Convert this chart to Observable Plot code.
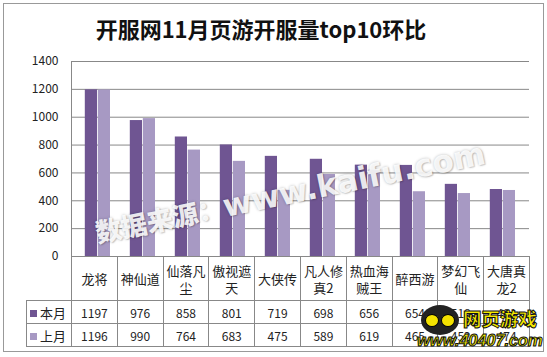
<!DOCTYPE html>
<html>
<head>
<meta charset="utf-8">
<script src="https://cdn.jsdelivr.net/npm/d3@7"></script>
<script src="https://cdn.jsdelivr.net/npm/@observablehq/plot@0.6"></script>
<style>
  html, body { margin: 0; padding: 0; background: #fff; }
  #root { position: relative; width: 547px; height: 357px; overflow: hidden; font-family: "Noto Sans CJK SC", "DejaVu Sans", sans-serif; }
  #border { position: absolute; left: 3px; top: 3px; width: 541px; height: 349px; border: 1px solid #999; box-sizing: border-box; }
  #title { position: absolute; left: 0; top: 13px; width: 522px; text-align: center; font-size: 22px; font-weight: bold; color: #111; line-height: 30px; }
  #chart { position: absolute; left: 0; top: 0; }
  #tbl { position: absolute; left: 26px; top: 256px; border-collapse: collapse; table-layout: fixed; width: 503px; color: #222; }
  #tbl td { border: 1px solid #888; padding: 0 1px; text-align: center; font-size: 12px; }
  #tbl tr.head td { height: 43px; font-size: 13px; line-height: 17px; vertical-align: middle; }
  #tbl tr.head td.blank { border-top: none; border-left: none; }
  #tbl tr.row td { height: 22px; }
  #tbl td.lab { text-align: left; font-size: 13px; padding-left: 3px; white-space: nowrap; }
  .sw { display: inline-block; width: 7px; height: 7px; margin-right: 3px; vertical-align: 1px; }
  #wm { position: absolute; left: 96px; top: 214px; line-height: 36px; transform-origin: 0 50%; transform: rotate(-11.5deg); font-weight: 900; white-space: nowrap; color: rgba(255,255,255,0.88); text-shadow: 0 0 3px rgba(0,0,0,0.25), 1px 1px 1px rgba(0,0,0,0.15); }
  #wm .cjk { font-size: 26px; }
  #wm .lat { font-size: 31px; font-family: "DejaVu Sans", sans-serif; font-weight: bold; }
  #logo1 { position: absolute; left: 463px; top: 306px; font-size: 18.5px; line-height: 24px; font-weight: 900; color: #f7ea00; -webkit-text-stroke: 1px #111; white-space: nowrap; }
  #logo2 { position: absolute; left: 417px; top: 330px; font-size: 17px; line-height: 22px; font-weight: bold; font-style: italic; color: #eee600; -webkit-text-stroke: 1px #111; white-space: nowrap; font-family: "Liberation Sans", sans-serif; letter-spacing: -0.4px; }
  #face { position: absolute; left: 421px; top: 305px; width: 38px; height: 30px; border-radius: 50%; background: #222; }
  #face:before, #face:after { content: ""; position: absolute; top: 9px; width: 12px; height: 11px; border-radius: 50%; background: #f4e200; border: 1px solid #000; }
  #face:before { left: 4px; } #face:after { left: 20px; }
</style>
</head>
<body>
<div id="root">
  <div id="border"></div>
  <div id="title">开服网11月页游开服量top10环比</div>
  <div id="chart"></div>
  <table id="tbl"></table>
  <div id="wm"><span class="cjk">数据来源：</span><span class="lat">www.kaifu.com</span></div>
  <div id="face"></div>
  <div id="logo1">网页游戏</div>
  <div id="logo2">www.40407.com</div>
</div>
<script>
const categories = ["龙将","神仙道","仙落凡尘","傲视遮天","大侠传","凡人修真2","热血海贼王","醉西游","梦幻飞仙","大唐真龙2"];
const seriesNames = ["本月","上月"];
const thisMonth = [1197,976,858,801,719,698,656,654,518,481];
const lastMonth = [1196,990,764,683,475,589,619,465,452,474];
const yTicks = [0,200,400,600,800,1000,1200,1400];
const colors = ["#6f5592","#a799c3"];

const data = categories.map((c, i) => ({cat: c, cur: thisMonth[i], prev: lastMonth[i]}));

const W = 547, H = 272;
const mL = 71, mR = 18;
const bw = (W - mL - mR) / categories.length;
const barW = 13, off = 9.8;

const svg = Plot.plot({
  width: W, height: H,
  marginTop: 61, marginBottom: 16, marginLeft: mL, marginRight: mR,
  style: {fontFamily: "'Noto Sans CJK SC', 'DejaVu Sans', sans-serif", fontSize: "12px", color: "#222", background: "transparent"},
  x: {type: "band", domain: categories, padding: 0, axis: null},
  y: {domain: [0, 1400], ticks: yTicks},
  marks: [
    Plot.gridY(yTicks, {stroke: "#888", strokeOpacity: 1, strokeWidth: 1}),
    Plot.barY(data, {x: "cat", y: "cur", fill: colors[0], insetLeft: off, insetRight: bw - off - barW}),
    Plot.barY(data, {x: "cat", y: "prev", fill: colors[1], insetLeft: off + barW, insetRight: bw - off - 2 * barW}),
    Plot.axisY(yTicks, {tickSize: 0, tickPadding: 13, label: null, fontSize: 12, fill: "#222", tickFormat: d => String(d)}),
    Plot.frame({anchor: "left", stroke: "#888"})
  ]
});
document.getElementById("chart").appendChild(svg);

// data table below the chart, aligned to the x band scale
const tbl = d3.select("#tbl");
const cg = tbl.append("colgroup");
cg.append("col").style("width", "45px");
categories.forEach(() => cg.append("col").style("width", bw + "px"));
const head = tbl.append("tr").attr("class", "head");
head.append("td").attr("class", "blank");
categories.forEach(c => head.append("td").text(c));
[thisMonth, lastMonth].forEach((vals, si) => {
  const tr = tbl.append("tr").attr("class", "row");
  const lab = tr.append("td").attr("class", "lab");
  lab.append("span").attr("class", "sw").style("background", colors[si]);
  lab.append("span").text(seriesNames[si]);
  vals.forEach(v => tr.append("td").text(v));
});
</script>
</body>
</html>
